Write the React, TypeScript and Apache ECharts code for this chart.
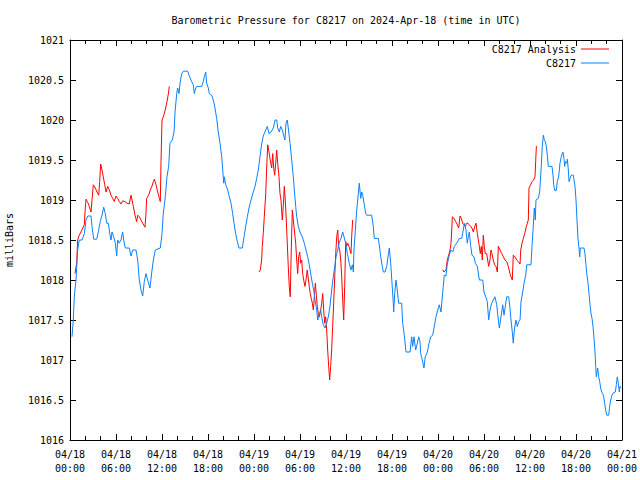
import React, { useEffect, useRef } from "react";
import * as echarts from "echarts";

const titleText = "Barometric Pressure for C8217 on 2024-Apr-18 (time in UTC)";
const yAxisName = "milliBars";
const analysisName = "C8217 Analysis";
const stationName = "C8217";

// [hours since 2024-04-18 00:00 UTC, millibars]
const stationReadings: [number, number][] = [
  [0.26, 1017.29], [0.43, 1017.5], [0.56, 1017.79], [0.78, 1018.0], [1.0, 1018.375], [1.21, 1018.5],
  [1.57, 1018.5], [1.87, 1018.58], [2.09, 1018.75], [2.31, 1018.8], [2.74, 1018.8], [2.87, 1018.67],
  [3.09, 1018.51], [3.48, 1018.51], [3.69, 1018.6], [3.95, 1018.73], [4.17, 1018.81], [4.4, 1018.91],
  [4.6, 1018.83], [4.79, 1018.71], [5.0, 1018.71], [5.22, 1018.56], [5.35, 1018.5], [5.48, 1018.6],
  [5.7, 1018.54], [5.91, 1018.46], [6.09, 1018.3], [6.22, 1018.5], [6.43, 1018.46], [6.65, 1018.5],
  [6.87, 1018.6], [7.0, 1018.5], [7.21, 1018.4], [7.73, 1018.4], [7.96, 1018.3], [8.18, 1018.375],
  [8.61, 1018.375], [8.83, 1018.25], [9.04, 1018.0], [9.26, 1017.875], [9.48, 1017.8], [9.69, 1017.98],
  [9.91, 1018.08], [10.13, 1018.0], [10.43, 1017.9], [10.7, 1018.125], [10.87, 1018.25], [11.13, 1018.375],
  [11.78, 1018.4], [12.0, 1018.58], [12.17, 1018.83], [12.43, 1019.04], [12.65, 1019.29], [12.87, 1019.42],
  [13.04, 1019.71], [13.34, 1019.75], [13.57, 1019.85], [13.7, 1020.1], [13.92, 1020.33], [14.04, 1020.4],
  [14.22, 1020.33], [14.35, 1020.46], [14.57, 1020.58], [14.78, 1020.61], [15.35, 1020.61], [15.52, 1020.56],
  [15.78, 1020.5], [16.08, 1020.44], [16.21, 1020.33], [16.4, 1020.4], [16.53, 1020.42], [17.18, 1020.42],
  [17.39, 1020.48], [17.52, 1020.54], [17.7, 1020.6], [17.83, 1020.46], [18.04, 1020.4], [18.17, 1020.33],
  [18.48, 1020.31], [18.69, 1020.25], [18.91, 1020.15], [19.13, 1020.02], [19.34, 1019.85], [19.57, 1019.71],
  [19.79, 1019.54], [19.92, 1019.375], [20.05, 1019.21], [20.13, 1019.29], [20.31, 1019.19], [20.57, 1019.125],
  [20.78, 1019.04], [21.0, 1018.96], [21.22, 1018.83], [21.39, 1018.71], [21.61, 1018.58], [21.82, 1018.48],
  [22.04, 1018.4], [22.47, 1018.4], [22.7, 1018.54], [22.92, 1018.67], [23.13, 1018.79], [23.35, 1018.9],
  [23.61, 1019.0], [23.91, 1019.1], [24.13, 1019.17], [24.35, 1019.27], [24.56, 1019.375], [24.78, 1019.54],
  [25.0, 1019.7], [25.21, 1019.8], [25.53, 1019.875], [25.73, 1019.92], [25.96, 1019.83], [26.22, 1019.85],
  [26.52, 1019.9], [26.74, 1020.0], [26.96, 1020.0], [27.09, 1019.9], [27.3, 1019.85], [27.48, 1019.92],
  [27.69, 1019.875], [27.91, 1019.79], [28.04, 1019.75], [28.17, 1019.96], [28.34, 1020.0], [28.47, 1019.9],
  [28.7, 1019.71], [28.92, 1019.5], [29.13, 1019.29], [29.26, 1019.125], [29.44, 1018.92], [29.57, 1018.79],
  [29.78, 1018.67], [30.0, 1018.6], [30.3, 1018.54], [30.56, 1018.46], [30.78, 1018.375], [31.0, 1018.29],
  [31.21, 1018.19], [31.43, 1018.06], [31.61, 1017.96], [31.83, 1017.85], [31.96, 1017.75], [32.18, 1017.625],
  [32.31, 1017.5], [32.48, 1017.56], [32.7, 1017.625], [32.83, 1017.54], [33.04, 1017.44], [33.26, 1017.4],
  [33.48, 1017.46], [33.69, 1017.54], [33.91, 1017.67], [34.13, 1017.875], [34.34, 1018.04], [34.57, 1018.19],
  [34.7, 1018.29], [34.92, 1018.375], [35.09, 1018.46], [35.35, 1018.52], [35.57, 1018.6], [35.74, 1018.54],
  [35.96, 1018.46], [36.17, 1018.33], [36.43, 1018.21], [36.65, 1018.125], [36.83, 1018.19], [36.96, 1018.1],
  [37.04, 1018.375], [37.22, 1018.625], [37.4, 1018.875], [37.61, 1019.08], [37.73, 1019.21], [37.92, 1019.02],
  [38.05, 1019.1], [38.18, 1019.06], [38.35, 1018.96], [38.57, 1018.83], [38.7, 1018.81], [39.35, 1018.81],
  [39.56, 1018.67], [39.69, 1018.52], [40.21, 1018.52], [40.34, 1018.44], [40.53, 1018.29], [40.73, 1018.17],
  [40.87, 1018.1], [41.09, 1018.1], [41.31, 1018.17], [41.48, 1018.29], [41.65, 1018.4], [41.83, 1018.21],
  [42.0, 1017.96], [42.17, 1017.71], [42.22, 1017.6], [42.35, 1017.83], [42.52, 1018.0], [42.69, 1017.875],
  [42.87, 1017.71], [43.26, 1017.71], [43.39, 1017.46], [43.6, 1017.31], [43.83, 1017.1], [44.35, 1017.1],
  [44.57, 1017.29], [44.7, 1017.17], [44.87, 1017.29], [45.09, 1017.125], [45.3, 1017.21], [45.48, 1017.29],
  [45.65, 1017.23], [45.74, 1017.08], [45.95, 1017.0], [46.17, 1016.9], [46.34, 1017.04], [46.61, 1017.1],
  [46.83, 1017.21], [47.05, 1017.29], [47.31, 1017.31], [47.52, 1017.42], [47.74, 1017.54], [47.96, 1017.625],
  [48.17, 1017.69], [48.39, 1017.6], [48.52, 1017.75], [48.69, 1017.92], [48.82, 1018.06], [49.04, 1018.05],
  [49.21, 1018.2], [49.43, 1018.29], [49.66, 1018.375], [49.92, 1018.35], [50.13, 1018.42], [50.44, 1018.46],
  [50.78, 1018.52], [51.09, 1018.52], [51.3, 1018.625], [51.43, 1018.71], [51.65, 1018.625], [51.82, 1018.46],
  [51.95, 1018.54], [52.08, 1018.6], [52.27, 1018.42], [52.43, 1018.31], [52.7, 1018.29], [52.87, 1018.21],
  [53.13, 1018.17], [53.39, 1018.0], [53.83, 1018.0], [54.0, 1017.85], [54.22, 1017.79], [54.43, 1017.73],
  [54.61, 1017.5], [54.78, 1017.625], [55.0, 1017.71], [55.21, 1017.75], [55.43, 1017.79], [55.66, 1017.69],
  [55.83, 1017.54], [56.0, 1017.4], [56.22, 1017.54], [56.44, 1017.69], [56.61, 1017.56], [56.78, 1017.67],
  [56.96, 1017.79], [57.22, 1017.79], [57.39, 1017.65], [57.52, 1017.5], [57.69, 1017.35], [57.82, 1017.21],
  [57.95, 1017.375], [58.17, 1017.5], [58.34, 1017.42], [58.53, 1017.48], [58.7, 1017.5], [58.83, 1017.73],
  [59.05, 1017.85], [59.22, 1017.96], [59.44, 1018.06], [59.57, 1018.19], [60.13, 1018.19], [60.26, 1018.42],
  [60.43, 1018.67], [60.56, 1018.9], [60.69, 1018.75], [60.78, 1019.0], [61.08, 1019.02], [61.26, 1019.1],
  [61.47, 1019.42], [61.6, 1019.67], [61.74, 1019.81], [61.87, 1019.75], [62.0, 1019.73], [62.13, 1019.67],
  [62.26, 1019.56], [62.39, 1019.42], [62.87, 1019.42], [63.0, 1019.31], [63.09, 1019.19], [63.22, 1019.12],
  [63.43, 1019.12], [63.56, 1019.23], [63.74, 1019.29], [63.91, 1019.46], [64.08, 1019.54], [64.21, 1019.58],
  [64.3, 1019.6], [64.43, 1019.52], [64.52, 1019.42], [64.65, 1019.48], [64.79, 1019.46], [64.87, 1019.51],
  [65.0, 1019.375], [65.09, 1019.23], [65.22, 1019.27], [65.39, 1019.31], [65.65, 1019.31], [65.74, 1019.25],
  [65.87, 1019.17], [66.0, 1019.0], [66.13, 1018.75], [66.26, 1018.52], [66.39, 1018.4], [66.48, 1018.29],
  [66.57, 1018.4], [67.04, 1018.4], [67.17, 1018.33], [67.3, 1018.19], [67.43, 1018.06], [67.57, 1017.96],
  [67.7, 1017.83], [67.83, 1017.69], [67.96, 1017.58], [68.09, 1017.52], [68.22, 1017.42], [68.35, 1017.27],
  [68.48, 1017.1], [68.57, 1016.92], [68.65, 1016.79], [68.74, 1016.85], [68.83, 1016.9], [68.96, 1016.79],
  [69.09, 1016.73], [69.22, 1016.65], [69.35, 1016.6], [69.48, 1016.58], [69.61, 1016.54], [69.74, 1016.46],
  [69.87, 1016.375], [70.0, 1016.31], [70.26, 1016.31], [70.39, 1016.42], [70.52, 1016.5], [70.7, 1016.56],
  [70.87, 1016.59], [71.13, 1016.6], [71.26, 1016.69], [71.39, 1016.79], [71.52, 1016.71], [71.65, 1016.6],
  [71.74, 1016.67], [71.87, 1016.65],
];

const analysisApr18: [number, number][] = [
  [0.65, 1018.08], [0.87, 1018.21], [1.0, 1018.5], [1.21, 1018.56], [1.43, 1018.6], [1.66, 1018.65],
  [1.87, 1018.69], [1.96, 1018.85], [2.09, 1019.01], [2.31, 1018.97], [2.52, 1018.92], [2.74, 1018.85],
  [2.87, 1019.0], [3.04, 1019.19], [3.3, 1019.15], [3.52, 1019.1], [3.74, 1019.06], [3.87, 1019.23],
  [4.0, 1019.45], [4.17, 1019.375], [4.34, 1019.29], [4.53, 1019.19], [4.7, 1019.1], [4.92, 1019.17],
  [5.13, 1019.125], [5.35, 1019.06], [5.57, 1019.02], [5.78, 1018.98], [6.0, 1019.05], [6.22, 1019.02],
  [6.43, 1018.98], [6.65, 1018.95], [6.87, 1018.99], [7.17, 1018.98], [7.43, 1018.96], [7.73, 1018.95],
  [7.96, 1019.06], [8.09, 1019.0], [8.26, 1018.92], [8.48, 1018.81], [8.7, 1018.73], [8.83, 1018.81],
  [9.04, 1018.79], [9.26, 1018.75], [9.48, 1018.71], [9.78, 1018.66], [9.91, 1018.83], [10.0, 1019.02],
  [10.26, 1019.06], [10.47, 1019.125], [10.7, 1019.175], [10.87, 1019.23], [11.0, 1019.26], [11.22, 1019.19],
  [11.44, 1019.1], [11.65, 1019.02], [11.78, 1018.98], [11.87, 1019.48], [12.0, 1020.0], [12.17, 1020.04],
  [12.35, 1020.1], [12.52, 1020.17], [12.69, 1020.25], [12.87, 1020.35], [12.95, 1020.42],
];

const analysisApr19: [number, number][] = [
  [24.65, 1018.1], [24.82, 1018.125], [25.0, 1018.25], [25.08, 1018.42], [25.21, 1018.58], [25.34, 1018.79],
  [25.53, 1019.08], [25.65, 1019.4], [25.79, 1019.69], [25.92, 1019.625], [26.05, 1019.54], [26.18, 1019.46],
  [26.31, 1019.4], [26.44, 1019.58], [26.57, 1019.4], [26.7, 1019.31], [26.83, 1019.46], [26.96, 1019.625],
  [27.09, 1019.46], [27.26, 1019.29], [27.39, 1019.08], [27.52, 1019.0], [27.69, 1018.75], [27.82, 1018.92],
  [27.95, 1019.17], [28.08, 1019.0], [28.21, 1018.75], [28.34, 1018.46], [28.47, 1018.17], [28.6, 1017.92],
  [28.73, 1017.79], [28.86, 1018.375], [29.0, 1018.875], [29.13, 1018.75], [29.26, 1018.625], [29.44, 1018.46],
  [29.57, 1018.25], [29.7, 1018.08], [29.83, 1018.29], [29.96, 1018.35], [30.09, 1018.21], [30.22, 1018.25],
  [30.35, 1018.08], [30.48, 1018.0], [30.65, 1017.92], [30.78, 1018.0], [30.95, 1018.125], [31.08, 1018.02],
  [31.21, 1017.92], [31.34, 1017.83], [31.47, 1017.77], [31.61, 1017.71], [31.74, 1017.625], [31.87, 1017.79],
  [32.0, 1017.96], [32.13, 1017.81], [32.26, 1017.67], [32.39, 1017.58], [32.52, 1017.54], [32.7, 1017.625],
  [32.83, 1017.71], [32.96, 1017.83], [33.09, 1017.625], [33.22, 1017.46], [33.35, 1017.54], [33.48, 1017.375],
  [33.61, 1017.125], [33.74, 1016.92], [33.87, 1016.75], [34.0, 1016.92], [34.13, 1017.125], [34.26, 1017.42],
  [34.39, 1017.71], [34.53, 1018.04], [34.66, 1018.33], [34.79, 1018.54], [34.92, 1018.625], [35.05, 1018.42],
  [35.18, 1018.375], [35.31, 1018.25], [35.44, 1018.04], [35.57, 1017.75], [35.7, 1017.5], [35.83, 1017.92],
  [35.96, 1018.48], [36.09, 1018.42], [36.22, 1018.46], [36.39, 1018.42], [36.52, 1018.375], [36.65, 1018.33],
  [36.74, 1018.54], [36.87, 1018.75],
];

const analysisApr20: [number, number][] = [
  [48.61, 1018.13], [48.78, 1018.1], [49.04, 1018.125], [49.21, 1018.25], [49.39, 1018.31], [49.57, 1018.375],
  [49.7, 1018.46], [49.79, 1018.625], [49.87, 1018.79], [50.09, 1018.77], [50.31, 1018.73], [50.52, 1018.69],
  [50.7, 1018.65], [50.87, 1018.8], [51.04, 1018.77], [51.22, 1018.71], [51.39, 1018.69], [51.56, 1018.67],
  [51.74, 1018.71], [51.91, 1018.71], [52.08, 1018.69], [52.27, 1018.67], [52.43, 1018.65], [52.61, 1018.6],
  [52.79, 1018.67], [52.96, 1018.71], [53.13, 1018.58], [53.26, 1018.5], [53.39, 1018.42], [53.52, 1018.33],
  [53.65, 1018.42], [53.78, 1018.25], [53.91, 1018.56], [54.04, 1018.42], [54.17, 1018.33], [54.35, 1018.33],
  [54.48, 1018.25], [54.61, 1018.17], [54.78, 1018.25], [54.91, 1018.375], [55.04, 1018.33], [55.21, 1018.25],
  [55.39, 1018.19], [55.56, 1018.17], [55.74, 1018.1], [55.87, 1018.42], [56.09, 1018.375], [56.31, 1018.33],
  [56.52, 1018.29], [56.74, 1018.25], [56.96, 1018.23], [57.17, 1018.17], [57.39, 1018.08], [57.52, 1018.04],
  [57.69, 1018.0], [57.82, 1018.31], [58.04, 1018.29], [58.26, 1018.25], [58.47, 1018.23], [58.7, 1018.2],
  [58.79, 1018.375], [58.96, 1018.46], [59.13, 1018.52], [59.31, 1018.58], [59.48, 1018.65], [59.65, 1018.71],
  [59.78, 1018.75], [59.87, 1019.15], [60.09, 1019.19], [60.26, 1019.23], [60.48, 1019.25], [60.65, 1019.29],
  [60.74, 1019.48], [60.83, 1019.675],
];

const xMin = 0;
const xMax = 72;
const xInterval = 6;
const yMin = 1016;
const yMax = 1021;
const yInterval = 0.5;

const FONT = "'DejaVu Sans Mono', monospace";

function timeLabel(v: number): string {
  const day = 18 + Math.floor(v / 24);
  const hr = Math.round(v % 24);
  return `04/${day}\n${String(hr).padStart(2, "0")}:00`;
}

function pressureLabel(v: number): string {
  return String(Math.round(v * 10) / 10);
}

export default function App() {
  const ref = useRef<HTMLDivElement>(null);

  useEffect(() => {
    if (!ref.current) return;
    const chart = echarts.init(ref.current, null, { renderer: "svg" });

    const analysisData: any[] = [
      ...analysisApr18,
      [analysisApr18[analysisApr18.length - 1][0] + 0.01, "-"],
      ...analysisApr19,
      [analysisApr19[analysisApr19.length - 1][0] + 0.01, "-"],
      ...analysisApr20,
    ];

    const tickStyle = { color: "#000", width: 1 };
    const baseX = {
      type: "value",
      min: xMin,
      max: xMax,
      interval: xInterval,
      splitLine: { show: false },
      axisLine: { show: true, onZero: false, lineStyle: { color: "#000", width: 1 } },
      axisTick: { show: true, inside: true, length: 6, lineStyle: tickStyle },
      minorTick: { show: true, splitNumber: 3, length: 4, lineStyle: tickStyle },
    };
    const baseY = {
      type: "value",
      min: yMin,
      max: yMax,
      interval: yInterval,
      splitLine: { show: false },
      axisLine: { show: true, onZero: false, lineStyle: { color: "#000", width: 1 } },
      axisTick: { show: true, inside: true, length: 6, lineStyle: tickStyle },
    };

    const legendCommon = {
      right: 31,
      padding: 0,
      align: "right",
      itemWidth: 28,
      itemHeight: 1,
      icon: "path://M0,0H28V1H0Z",
      textStyle: { fontFamily: FONT, fontSize: 10, color: "#000" },
    };

    chart.setOption({
      animation: false,
      backgroundColor: "#fff",
      title: {
        text: titleText,
        left: 341,
        top: 10,
        textAlign: "center",
        textStyle: { fontFamily: FONT, fontSize: 10, fontWeight: "normal", color: "#000" },
      },
      legend: [
        { ...legendCommon, data: [analysisName], top: 44 },
        { ...legendCommon, data: [stationName], top: 58 },
      ],
      grid: {
        left: 70,
        right: 18,
        top: 40,
        bottom: 40,
        containLabel: false,
        outerBoundsMode: "none",
      },
      xAxis: [
        {
          ...baseX,
          position: "bottom",
          axisLabel: {
            show: true,
            formatter: timeLabel,
            fontFamily: FONT,
            fontSize: 10,
            color: "#000",
            lineHeight: 14,
            margin: 7,
            showMinLabel: true,
            showMaxLabel: true,
          },
        },
        { ...baseX, position: "top", axisLabel: { show: false } },
      ],
      yAxis: [
        {
          ...baseY,
          position: "left",
          name: yAxisName,
          nameLocation: "middle",
          nameGap: 56,
          nameRotate: 90,
          nameTextStyle: { fontFamily: FONT, fontSize: 10, color: "#000" },
          axisLabel: {
            show: true,
            formatter: pressureLabel,
            fontFamily: FONT,
            fontSize: 10,
            color: "#000",
            margin: 6,
            showMinLabel: true,
            showMaxLabel: true,
          },
        },
        { ...baseY, position: "right", axisLabel: { show: false } },
      ],
      series: [
        {
          name: analysisName,
          type: "line",
          xAxisIndex: 0,
          yAxisIndex: 0,
          data: analysisData,
          showSymbol: false,
          symbol: "none",
          connectNulls: false,
          color: "#ff0000",
          lineStyle: { color: "#ff0000", width: 1 },
        },
        {
          name: stationName,
          type: "line",
          xAxisIndex: 0,
          yAxisIndex: 0,
          data: stationReadings,
          showSymbol: false,
          symbol: "none",
          color: "#0a80ff",
          lineStyle: { color: "#0a80ff", width: 1 },
        },
      ],
    });

    return () => chart.dispose();
  }, []);

  return <div ref={ref} style={{ width: 640, height: 480, position: "absolute", left: 0, top: 0 }} />;
}
